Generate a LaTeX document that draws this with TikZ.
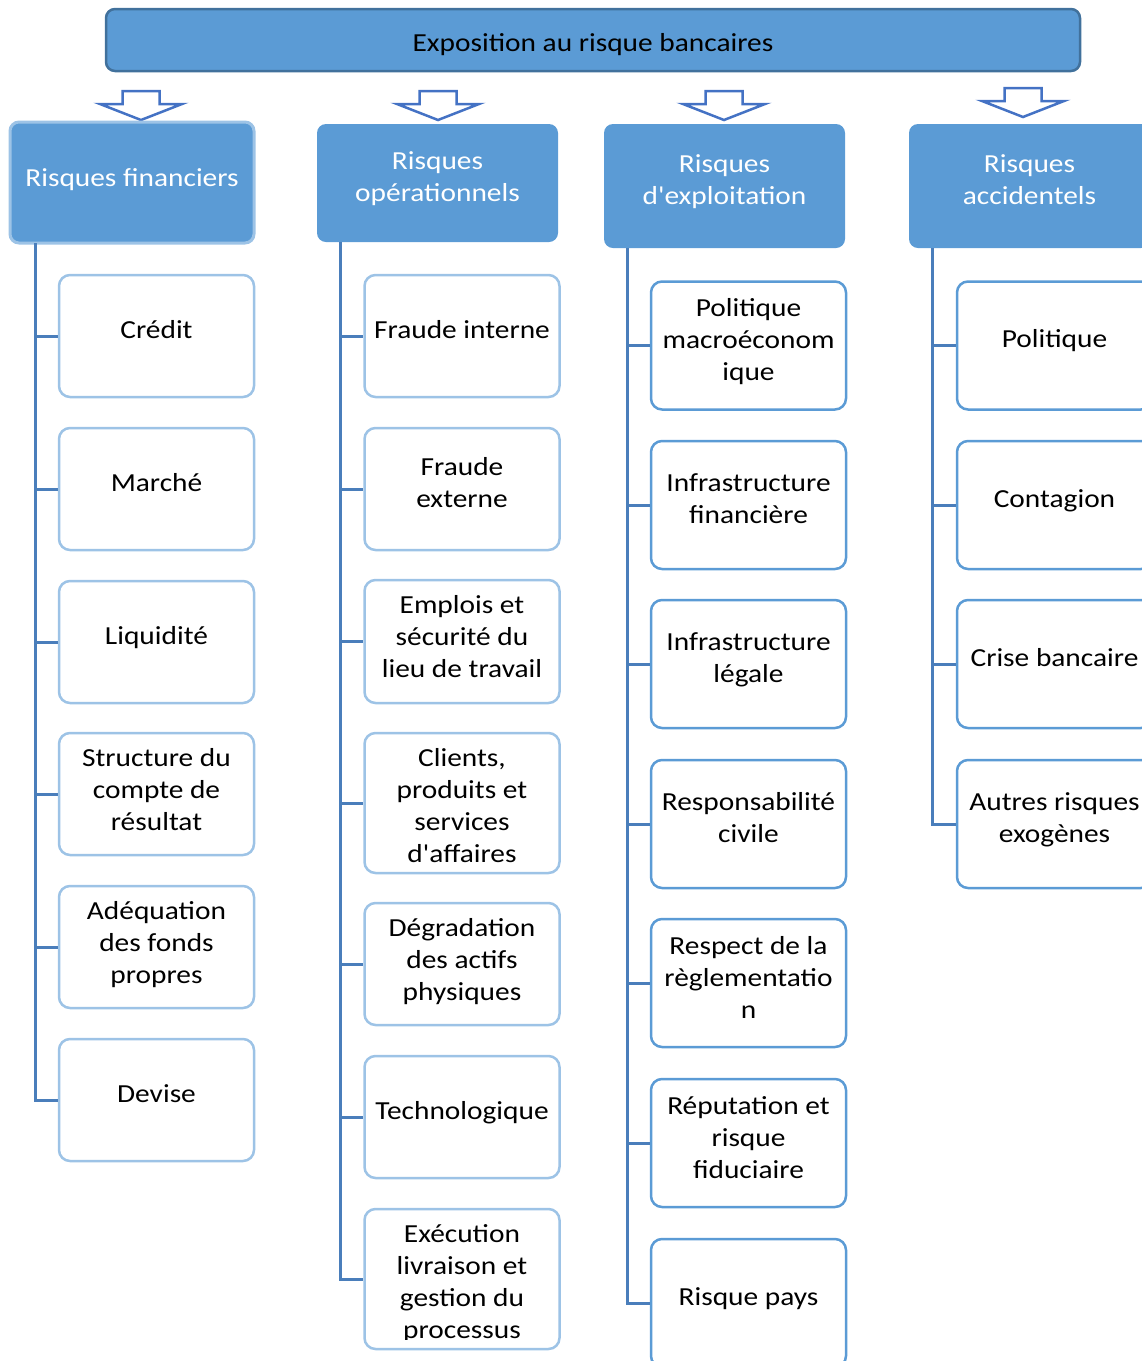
\documentclass[tikz,border=0pt]{standalone}
\usepackage{graphicx}
\usepackage{fontspec}
\setmainfont{Carlito}[Ligatures=TeXOff]
\definecolor{hfill}{HTML}{5B9BD5}
\definecolor{topedge}{HTML}{41719C}
\definecolor{lightedge}{HTML}{9DC3E6}
\definecolor{midedge}{HTML}{5B9BD5}
\definecolor{connc}{HTML}{4A7EBB}
\definecolor{arrowc}{HTML}{4472C4}
% centred lines of text, set a little wide
\newcommand\wtxt[1]{\scalebox{1.13}[1]{\begin{tabular}{@{}c@{}}#1\end{tabular}}}
\begin{document}
\begin{tikzpicture}[x=1pt,y=-1pt,
  every node/.style={font=\fontsize{26}{32}\selectfont, inner sep=0pt},
  topbox/.style={draw=topedge, fill=hfill, line width=2.5pt, rounded corners=9pt,
    minimum width=974, minimum height=62},
  headbox/.style={fill=hfill, rounded corners=9pt, minimum width=241},
  headedge/.style={draw=lightedge, line width=3pt},
  itemA/.style={draw=lightedge, fill=white, line width=2.5pt, rounded corners=11pt,
    minimum width=195, minimum height=122},
  itemB/.style={draw=midedge, fill=white, line width=2.5pt, rounded corners=11pt,
    minimum width=195, minimum height=128},
  htext/.style={text=white},
  itext/.style={text=black},
  conn/.style={draw=connc, line width=3pt},
  downarrow/.style={draw=arrowc, fill=white, line width=2.5pt, line join=miter},
]
\useasboundingbox (0,0) rectangle (1142,1361);
\begin{scope}
\clip (0,0) rectangle (1142,1361);

% title
\node[topbox] (top) at (593,40) {};
\node[text=black] (topt) at ([yshift=-5pt]top.center) {\wtxt{Exposition au risque bancaires}};

% block arrows under the title
\foreach \cx/\ty in {141/91, 438/91, 724/91, 1023/88}{
  \draw[downarrow] (\cx-18.5,\ty) -- (\cx+18.5,\ty) -- (\cx+18.5,\ty+13) -- (\cx+41,\ty+13)
    -- (\cx,\ty+29) -- (\cx-41,\ty+13) -- (\cx-18.5,\ty+13) -- cycle;
}

% column headers
\node[headbox, headedge, minimum width=244, minimum height=121] (h1) at (132,182.5) {};
\node[headbox, minimum height=118] (h2) at (437.5,183) {};
\node[headbox, minimum height=124] (h3) at (724.5,186) {};
\node[headbox, minimum height=124] (h4) at (1029.5,186) {};
\node[htext] (h1t) at ([yshift=2pt]h1.center) {\wtxt{Risques financiers}};
\node[htext] (h2t) at ([yshift=4pt]h2.center) {\wtxt{Risques\\opérationnels}};
\node[htext] (h3t) at ([yshift=4pt]h3.center) {\wtxt{Risques\\d'exploitation}};
\node[htext] (h4t) at ([yshift=4pt]h4.center) {\wtxt{Risques\\accidentels}};

\coordinate (t1) at (35,243);
\coordinate (t2) at (340,242);
\coordinate (t3) at (627,248);
\coordinate (t4) at (932,248);

% column 1
\foreach \n/\cy/\dy/\txt in {1/336/4/{Crédit}, 2/489/4/{Marché}, 3/642/4/{Liquidité},
    4/794/2/{Structure du\\compte de\\résultat}, 5/947/2/{Adéquation\\des fonds\\propres}, 6/1100/4/{Devise}}{
  \node[itemA] (a\n) at (156.5,\cy) {};
  \node[itext] (a\n t) at ([yshift=\dy pt]a\n.center) {\wtxt{\txt}};
}
\draw[conn] (t1) |- (a6.west);
\foreach \n in {1,...,5}{ \draw[conn] (t1 |- a\n.west) -- (a\n.west); }

% column 2
\node[itemA] (b1) at (462,336) {};
\node[itemA] (b2) at (462,489) {};
\node[itemA, minimum height=123] (b3) at (462,641.5) {};
\node[itemA, minimum height=140] (b4) at (462,803) {};
\node[itemA] (b5) at (462,964) {};
\node[itemA] (b6) at (462,1117) {};
\node[itemA, minimum height=140] (b7) at (462,1279) {};
\node[itext] (b1t) at ([yshift=4pt]b1.center) {\wtxt{Fraude interne}};
\node[itext] (b2t) at ([yshift=4pt]b2.center) {\wtxt{Fraude\\externe}};
\node[itext] (b3t) at ([yshift=2pt]b3.center) {\wtxt{Emplois et\\sécurité du\\lieu de travail}};
\node[itext] (b4t) at ([yshift=-5pt]b4.center) {\wtxt{Clients,\\produits et\\services\\d'affaires}};
\node[itext] (b5t) at ([yshift=2pt]b5.center) {\wtxt{Dégradation\\des actifs\\physiques}};
\node[itext] (b6t) at ([yshift=4pt]b6.center) {\wtxt{Technologique}};
\begin{scope}
  \clip (364,1209) rectangle (560,1339);
  \node[itext] (b7t) at ([yshift=-5pt]b7.center) {\wtxt{Exécution\\livraison et\\gestion du\\processus}};
\end{scope}
\draw[conn] (t2) |- (b7.west);
\foreach \n in {1,...,6}{ \draw[conn] (t2 |- b\n.west) -- (b\n.west); }

% column 3
\foreach \n/\cy/\dy/\txt in {1/345.5/3/{Politique\\macroéconom\\ique}, 2/505/4/{Infrastructure\\financière},
    3/664/4/{Infrastructure\\légale}, 4/824/4/{Responsabilité\\civile},
    5/983/3/{Respect de la\\règlementatio\\n}, 6/1143/3/{Réputation et\\risque\\fiduciaire}, 7/1303/4/{Risque pays}}{
  \node[itemB] (c\n) at (748.5,\cy) {};
  \node[itext] (c\n t) at ([yshift=\dy pt]c\n.center) {\wtxt{\txt}};
}
\draw[conn] (t3) |- (c7.west);
\foreach \n in {1,...,6}{ \draw[conn] (t3 |- c\n.west) -- (c\n.west); }

% column 4
\foreach \n/\cy/\txt in {1/345.5/{Politique}, 2/505/{Contagion}, 3/664/{Crise bancaire},
    4/824/{Autres risques\\exogènes}}{
  \node[itemB] (d\n) at (1054.5,\cy) {};
  \node[itext] (d\n t) at ([yshift=4pt]d\n.center) {\wtxt{\txt}};
}
\draw[conn] (t4) |- (d4.west);
\foreach \n in {1,...,3}{ \draw[conn] (t4 |- d\n.west) -- (d\n.west); }
\end{scope}
\end{tikzpicture}
\end{document}
